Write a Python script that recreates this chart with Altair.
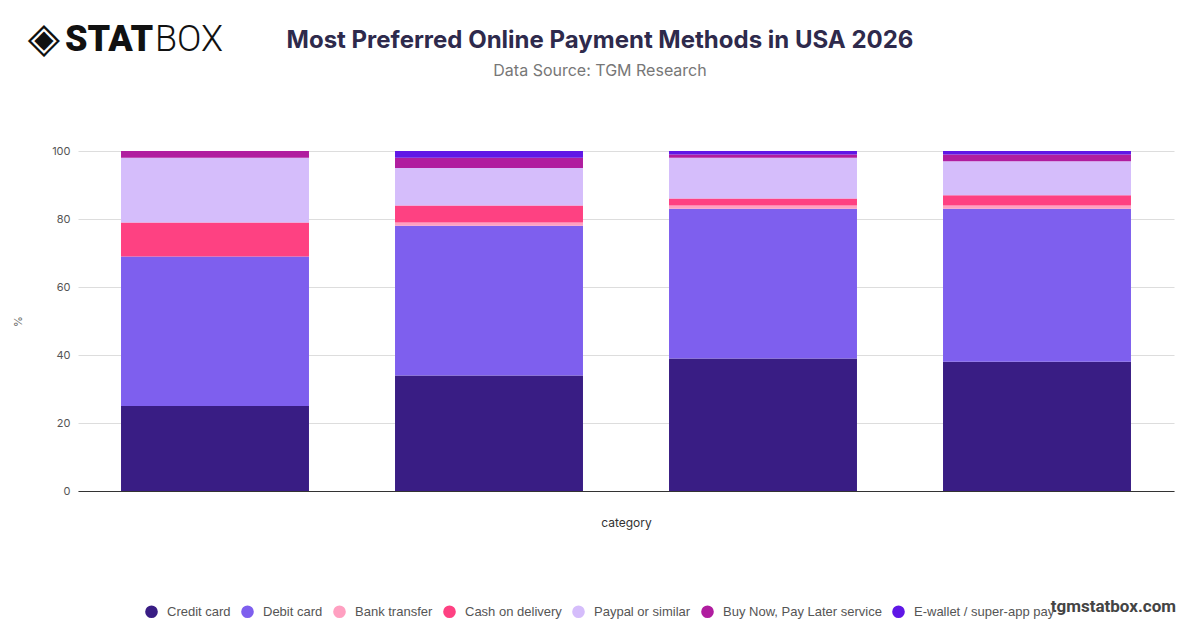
import altair as alt
import pandas as pd

categories = ["1", "2", "3", "4"]
series = ["Credit card", "Debit card", "Bank transfer", "Cash on delivery",
          "Paypal or similar", "Buy Now, Pay Later service", "E-wallet / super-app pay"]
colors = ["#391d84", "#7e5fee", "#ffa0c1", "#fe4182", "#d5bdfb", "#b01d9f", "#5f17e6"]
credit_card = [25, 34, 39, 38]
debit_card = [44, 44, 44, 45]
bank_transfer = [0, 1, 1, 1]
cash_on_delivery = [10, 5, 2, 3]
paypal = [19, 11, 12, 10]
bnpl = [2, 3, 1, 2]
ewallet = [0, 2, 1, 1]

title_text = "Most Preferred Online Payment Methods in USA 2026"
subtitle_text = "Data Source: TGM Research"

values = [credit_card, debit_card, bank_transfer, cash_on_delivery, paypal, bnpl, ewallet]
rows = []
for si, (name, vals) in enumerate(zip(series, values)):
    for c, v in zip(categories, vals):
        rows.append({"category": c, "series": name, "value": v, "idx": si})
df = pd.DataFrame(rows)

bars = alt.Chart(df).mark_bar().encode(
    x=alt.X("category:N", title="category", sort=categories,
            scale=alt.Scale(paddingInner=0.314, paddingOuter=0.157),
            axis=alt.Axis(labels=False, ticks=False, domainColor="#333333",
                          titleFont="Inter", titleFontSize=12, titleFontWeight="normal",
                          titleColor="#333333", titlePadding=26)),
    y=alt.Y("value:Q", title="%", stack="zero",
            scale=alt.Scale(domain=[0, 100], nice=False),
            axis=alt.Axis(values=[0, 20, 40, 60, 80, 100], domain=False, ticks=False,
                          gridColor="#dddddd", labelColor="#555555", labelFontSize=11,
                          labelFont="Inter", labelPadding=8,
                          titleFont="Inter", titleFontSize=11, titleFontWeight="normal",
                          titleColor="#666666", titlePadding=28)),
    color=alt.Color("series:N", sort=series,
                    scale=alt.Scale(domain=series, range=colors),
                    legend=alt.Legend(title=None, orient="none", direction="horizontal",
                                      legendX=67, legendY=454, symbolType="circle",
                                      symbolSize=160, labelFontSize=13,
                                      labelFont="Liberation Sans", labelLimit=400,
                                      labelColor="#555555", columnPadding=10,
                                      labelOffset=9, symbolStrokeWidth=0)),
    order=alt.Order("idx:Q", sort="ascending"),
)

title = alt.Chart().mark_text(text=title_text, fontSize=24, fontWeight="bold", color="#2e2a4c",
                              align="center", baseline="middle", font="Inter").encode(
    x=alt.value(522), y=alt.value(-110))
subtitle = alt.Chart().mark_text(text=subtitle_text, fontSize=16, color="#777777",
                                 align="center", baseline="middle", font="Inter").encode(
    x=alt.value(522), y=alt.value(-80))
logo_icon = alt.Chart().mark_text(text="◈", fontSize=42, color="#111111",
                                  align="center", baseline="middle", font="DejaVu Sans").encode(
    x=alt.value(-34), y=alt.value(-112))
logo_stat = alt.Chart().mark_text(text="STAT", fontSize=36, fontWeight=900, color="#111111",
                                  align="left", baseline="middle", font="Roboto").encode(
    x=alt.value(-13), y=alt.value(-111))
logo_box = alt.Chart().mark_text(text="BOX", fontSize=36, fontWeight=300, color="#111111",
                                 align="left", baseline="middle", font="Roboto").encode(
    x=alt.value(77), y=alt.value(-111))
watermark = alt.Chart().mark_text(text="tgmstatbox.com", fontSize=17, fontWeight="bold",
                                  color="#444444", align="right", baseline="middle",
                                  font="Roboto").encode(
    x=alt.value(1098), y=alt.value(456))

chart = alt.layer(bars, title, subtitle, logo_icon, logo_stat, logo_box, watermark).properties(
    width=1096, height=340,
    autosize=alt.AutoSizeParams(type="none"),
    padding={"left": 70, "top": 143, "right": 18, "bottom": 129},
).configure_view(stroke=None)

chart.save("out.html", embed_options={"renderer": "svg", "actions": False})
